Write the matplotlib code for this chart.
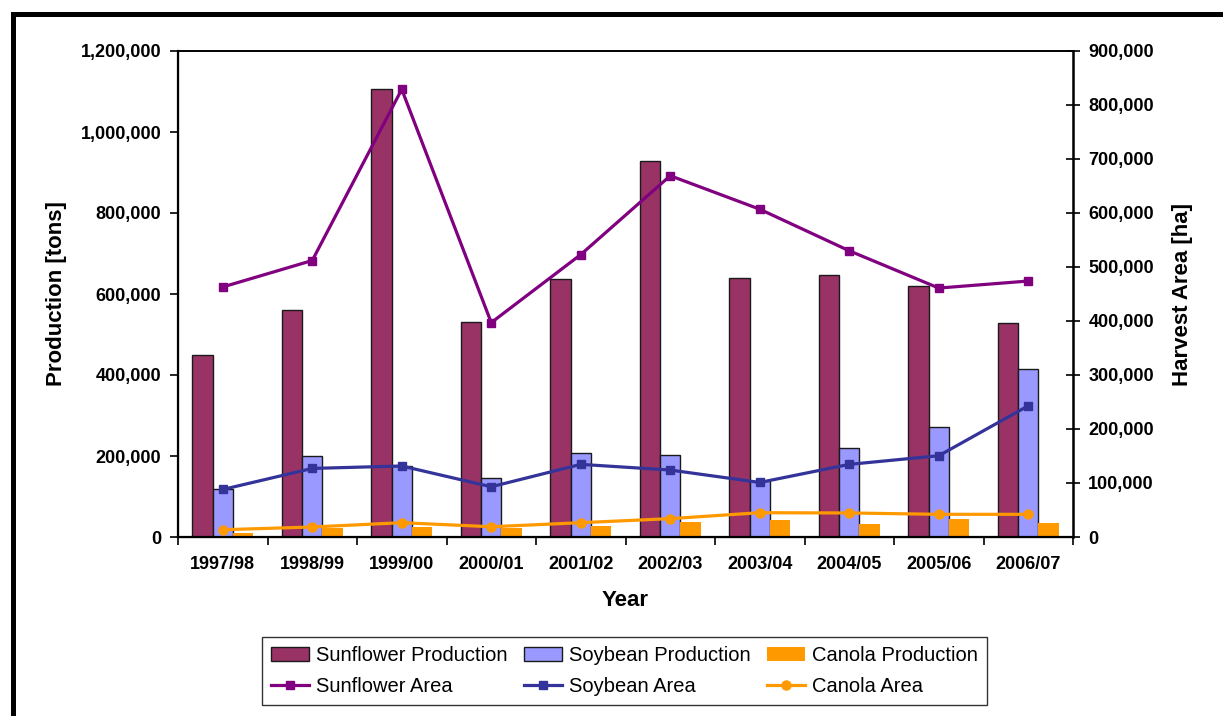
import matplotlib
matplotlib.use("Agg")
import matplotlib.pyplot as plt
from matplotlib.ticker import FuncFormatter, FixedLocator
from matplotlib.patches import Rectangle
from matplotlib.lines import Line2D
import numpy as np

plt.rcParams["font.family"] = ["Liberation Sans", "DejaVu Sans"]

years = ["1997/98", "1998/99", "1999/00", "2000/01", "2001/02",
         "2002/03", "2003/04", "2004/05", "2005/06", "2006/07"]

# Production in tons (left axis)
sunflower_prod = [449000, 561000, 1106000, 532000, 637000,
                  928000, 640000, 647000, 620000, 528000]
soybean_prod = [119000, 201000, 175000, 146000, 208000,
                202000, 138000, 219000, 271000, 414000]
canola_prod = [11000, 21000, 24000, 21000, 28000,
               38000, 41000, 31000, 44500, 34500]

# Harvest area in hectares (right axis)
sunflower_area = [463000, 512000, 829000, 397000, 523000,
                  669000, 607000, 530000, 461000, 474000]
soybean_area = [88000, 127000, 131500, 93000, 134500,
                124000, 101000, 134500, 150500, 243000]
canola_area = [13500, 18500, 26500, 19000, 26500,
               34000, 45000, 44500, 42000, 42000]

c_sun_bar = "#993366"
c_soy_bar = "#9999FF"
c_can = "#FF9900"
c_sun_line = "#800080"
c_soy_line = "#333399"

W, H = 1223, 716
fig = plt.figure(figsize=(W / 100, H / 100), dpi=100)
fig.patch.set_facecolor("white")

# Outer frame (runs off the right and bottom edges)
fig.patches.append(Rectangle((12.5 / W, -0.2), 2.0, (1 - 13.5 / H) + 0.2,
                             transform=fig.transFigure, fill=False,
                             edgecolor="black", linewidth=3.6, zorder=0))

ax = fig.add_axes([178 / W, 1 - 537 / H, (1073 - 178) / W, (537 - 51) / H])
ax2 = ax.twinx()

x = np.arange(len(years))
bw = 0.229
ax.bar(x - bw, sunflower_prod, bw, color=c_sun_bar, edgecolor="#1a1a1a",
       linewidth=1.0, zorder=2)
ax.bar(x, soybean_prod, bw, color=c_soy_bar, edgecolor="#1a1a1a",
       linewidth=1.0, zorder=2)
ax.bar(x + bw, canola_prod, bw, color=c_can, edgecolor="none", zorder=2)

lw = 2.3
ax2.plot(x, sunflower_area, color=c_sun_line, lw=lw, marker="s", ms=6,
         zorder=3)
ax2.plot(x, soybean_area, color=c_soy_line, lw=lw, marker="s", ms=6,
         zorder=3)
ax2.plot(x, canola_area, color=c_can, lw=lw, marker="o", ms=6.5,
         zorder=3)

ax.set_xlim(-0.5, len(years) - 0.5)
ax.set_ylim(0, 1200000)
ax2.set_ylim(0, 900000)
ax.set_yticks(np.arange(0, 1200001, 200000))
ax2.set_yticks(np.arange(0, 900001, 100000))

fmt = FuncFormatter(lambda v, p: f"{v:,.0f}")
ax.yaxis.set_major_formatter(fmt)
ax2.yaxis.set_major_formatter(fmt)

tick_fs = 13
ax.set_xticks(x)
ax.set_xticklabels(years, fontsize=tick_fs, fontweight="bold")
ax.tick_params(axis="x", which="major", length=0, pad=14)
ax.xaxis.set_minor_locator(FixedLocator(np.arange(-0.5, len(years), 1.0)))
ax.tick_params(axis="x", which="minor", length=6, width=1.2, direction="out")

ax.tick_params(axis="y", length=6, width=1.2, direction="out", pad=6,
               labelsize=tick_fs)
ax2.tick_params(axis="y", length=10, width=1.2, direction="inout", pad=6,
                labelsize=tick_fs)
for lbl in ax.get_yticklabels() + ax2.get_yticklabels():
    lbl.set_fontweight("bold")

for sp in ["left", "bottom"]:
    ax.spines[sp].set_linewidth(1.6)
ax.spines["top"].set_linewidth(1.2)
ax2.spines["right"].set_linewidth(1.8)
ax2.spines["top"].set_linewidth(1.2)

ax.set_xlabel("Year", fontsize=16, fontweight="bold", labelpad=12)
ax.set_ylabel("Production [tons]", fontsize=16, fontweight="bold", labelpad=10)
ax2.set_ylabel("Harvest Area [ha]", fontsize=16, fontweight="bold", labelpad=13)

h_sp = Rectangle((0, 0), 1, 1, facecolor=c_sun_bar, edgecolor="#1a1a1a", lw=1)
h_soyp = Rectangle((0, 0), 1, 1, facecolor=c_soy_bar, edgecolor="#1a1a1a", lw=1)
h_cp = Rectangle((0, 0), 1, 1, facecolor=c_can, edgecolor="none")
h_sa = Line2D([], [], color=c_sun_line, lw=lw, marker="s", ms=6)
h_soya = Line2D([], [], color=c_soy_line, lw=lw, marker="s", ms=6)
h_ca = Line2D([], [], color=c_can, lw=lw, marker="o", ms=6.5)

leg = fig.legend([h_sp, h_sa, h_soyp, h_soya, h_cp, h_ca],
                 ["Sunflower Production", "Sunflower Area",
                  "Soybean Production", "Soybean Area",
                  "Canola Production", "Canola Area"],
                 ncol=3, loc="center", bbox_to_anchor=(624.5 / W, 1 - 671 / H),
                 fontsize=14.5, frameon=True, fancybox=False, shadow=False,
                 edgecolor="black", handlelength=1.9, handleheight=0.75,
                 handletextpad=0.35, columnspacing=0.8, labelspacing=0.6,
                 borderpad=0.45, borderaxespad=0)
leg.get_frame().set_linewidth(1.0)

fig.savefig("out.png", dpi=100, facecolor="white")
